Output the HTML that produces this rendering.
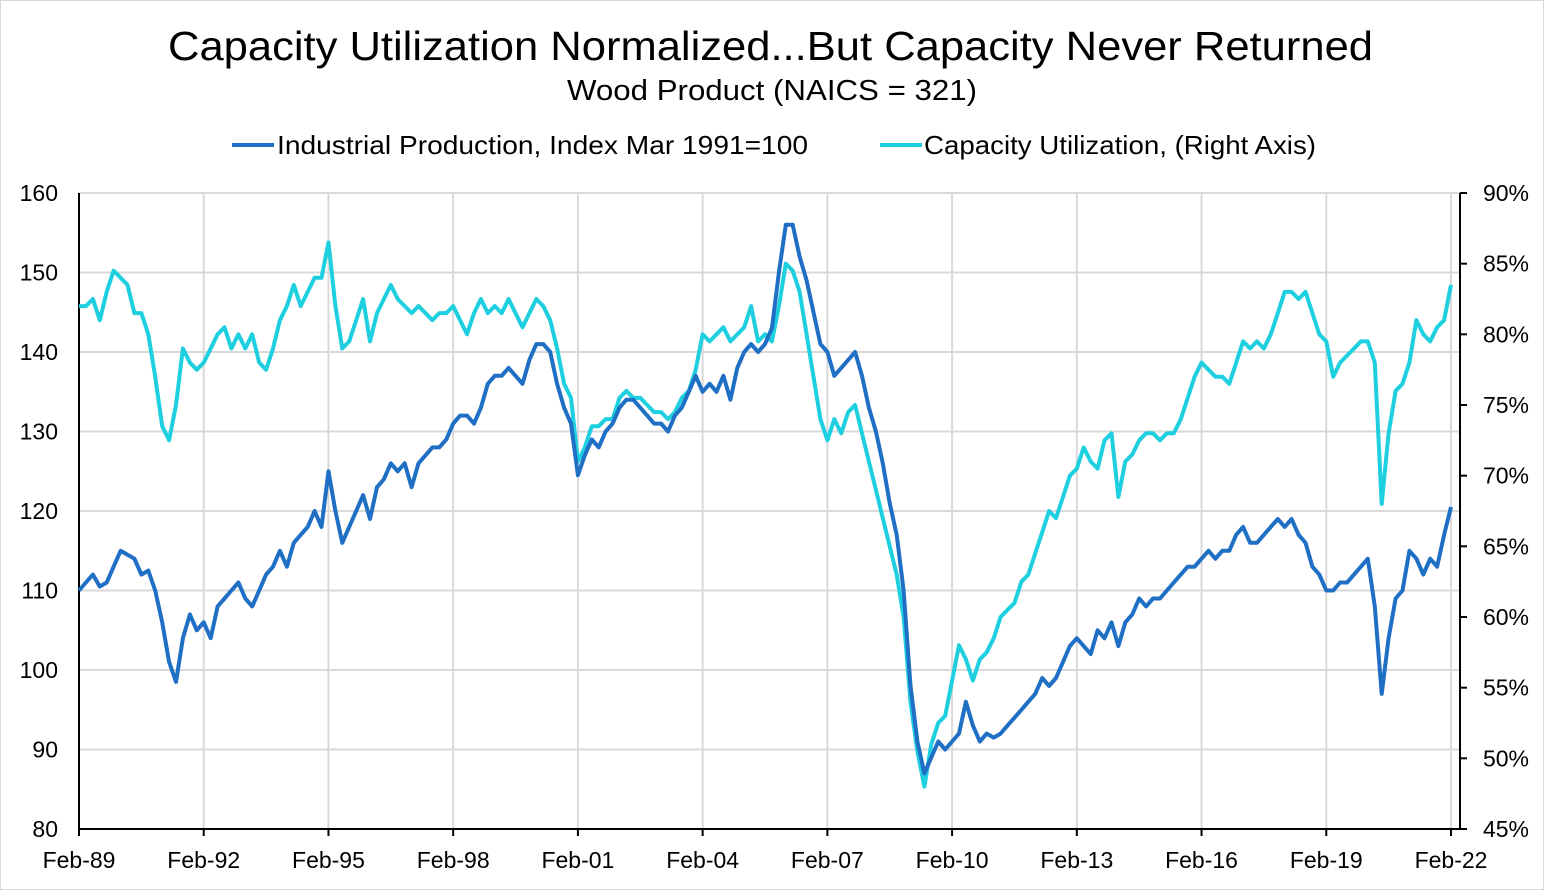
<!DOCTYPE html>
<html><head><meta charset="utf-8">
<style>
html,body{margin:0;padding:0;background:#fff;}
body{width:1544px;height:890px;overflow:hidden;font-family:"Liberation Sans",sans-serif;}
svg text{font-family:"Liberation Sans",sans-serif;}
</style></head>
<body>
<svg id="chart" width="1544" height="890" xmlns="http://www.w3.org/2000/svg">
<rect x="0.5" y="0.5" width="1543" height="889" fill="#fff" stroke="#d9d9d9"/>
<text x="168" y="60" textLength="1205" lengthAdjust="spacingAndGlyphs" font-size="41" fill="#000">Capacity Utilization Normalized...But Capacity Never Returned</text>
<text x="567" y="100" textLength="410" lengthAdjust="spacingAndGlyphs" font-size="29" fill="#000">Wood Product (NAICS = 321)</text>
<g>
<g>
<line x1="232" y1="145" x2="274" y2="145" stroke="#1f6fc5" stroke-width="4"/>
<text x="277" y="154" textLength="531" lengthAdjust="spacingAndGlyphs" font-size="26">Industrial Production, Index Mar 1991=100</text>
</g>
<g>
<line x1="880" y1="145" x2="922" y2="145" stroke="#1ecfe0" stroke-width="4"/>
<text x="924" y="154" textLength="392" lengthAdjust="spacingAndGlyphs" font-size="26">Capacity Utilization, (Right Axis)</text>
</g>
</g>
<g id="grid"></g>
<g id="axes"></g>
<g id="series"></g>
</svg>
<script>
const xTickLabels = ["Feb-89","Feb-92","Feb-95","Feb-98","Feb-01","Feb-04","Feb-07","Feb-10","Feb-13","Feb-16","Feb-19","Feb-22"];
const leftTicks = [80,90,100,110,120,130,140,150,160];
const rightTicks = [45,50,55,60,65,70,75,80,85,90];
// bimonthly from Feb-89 to Feb-22
const ipValues = [
110,111,112,110.5,111,113,
115,114.5,114,112,112.5,110,
106,101,98.5,104,107,105,
106,104,108,109,110,111,
109,108,110,112,113,115,
113,116,117,118,120,118,
125,120,116,118,120,122,
119,123,124,126,125,126,
123,126,127,128,128,129,
131,132,132,131,133,136,
137,137,138,137,136,139,
141,141,140,136,133,131,
124.5,127,129,128,130,131,
133,134,134,133,132,131,
131,130,132,133,135,137,
135,136,135,137,134,138,
140,141,140,141,143,150,
156,156,152,149,145,141,
140,137,138,139,140,137,
133,130,126,121,117,110,
98,91,87,89,91,90,
91,92,96,93,91,92,
91.5,92,93,94,95,96,
97,99,98,99,101,103,
104,103,102,105,104,106,
103,106,107,109,108,109,
109,110,111,112,113,113,
114,115,114,115,115,117,
118,116,116,117,118,119,
118,119,117,116,113,112,
110,110,111,111,112,113,
114,108,97,104,109,110,
115,114,112,114,113,117,
120.5];
const cuValues = [
82,82,82.5,81,83,84.5,
84,83.5,81.5,81.5,80,77,
73.5,72.5,75,79,78,77.5,
78,79,80,80.5,79,80,
79,80,78,77.5,79,81,
82,83.5,82,83,84,84,
86.5,82,79,79.5,81,82.5,
79.5,81.5,82.5,83.5,82.5,82,
81.5,82,81.5,81,81.5,81.5,
82,81,80,81.5,82.5,81.5,
82,81.5,82.5,81.5,80.5,81.5,
82.5,82,81,79,76.5,75.5,
71,72,73.5,73.5,74,74,
75.5,76,75.5,75.5,75,74.5,
74.5,74,74.5,75.5,76,77.5,
80,79.5,80,80.5,79.5,80,
80.5,82,79.5,80,79.5,82,
85,84.5,83,80,77,74,
72.5,74,73,74.5,75,73,
71,69,67,65,63,60,
54,50.5,48,51,52.5,53,
55.5,58,57,55.5,57,57.5,
58.5,60,60.5,61,62.5,63,
64.5,66,67.5,67,68.5,70,
70.5,72,71,70.5,72.5,73,
68.5,71,71.5,72.5,73,73,
72.5,73,73,74,75.5,77,
78,77.5,77,77,76.5,78,
79.5,79,79.5,79,80,81.5,
83,83,82.5,83,81.5,80,
79.5,77,78,78.5,79,79.5,
79.5,78,68,73,76,76.5,
78,81,80,79.5,80.5,81,
83.5];
const NS="http://www.w3.org/2000/svg";
const X0=79, PXM=(1451-79)/396, PL=79, PR=1460, PT=193, PB=829;
const xMonth = m => X0 + m*PXM;
const yL = v => PB - (v-80)/80*(PB-PT);
const yR = v => PB - (v-45)/45*(PB-PT);
function mk(tag, attrs, parent){const e=document.createElementNS(NS,tag);for(const k in attrs)e.setAttribute(k,attrs[k]);parent.appendChild(e);return e;}
const grid=document.getElementById('grid'), axes=document.getElementById('axes'), series=document.getElementById('series');
leftTicks.forEach(v=>{
  if(v>80){const l=mk('line',{x1:PL,x2:PR,y1:yL(v),y2:yL(v),stroke:'#d9d9d9','stroke-width':2},grid);
  
  }
  const t=mk('text',{x:58,y:yL(v)+8,'text-anchor':'end','font-size':23},axes);t.textContent=v;
  
  
});
rightTicks.forEach(v=>{
  const tk=mk('line',{x1:PR,x2:PR+7,y1:yR(v),y2:yR(v),stroke:'#000','stroke-width':2},axes);
  
  
  const t=mk('text',{x:1529,y:yR(v)+8,'text-anchor':'end','font-size':23},axes);t.textContent=v+'%';
  
  
});
xTickLabels.forEach((s,i)=>{
  const x=xMonth(i*36);
  if(i>0){const g=mk('line',{x1:x,x2:x,y1:PT,y2:PB,stroke:'#d9d9d9','stroke-width':2},grid);
  
  }
  const tk=mk('line',{x1:x,x2:x,y1:PB,y2:PB+7,stroke:'#000','stroke-width':2},axes);
  
  
  const t=mk('text',{x:x,y:868,'text-anchor':'middle','font-size':23},axes);t.textContent=s;
  
  
});
const la=mk('line',{x1:PL,x2:PL,y1:PT,y2:PB,stroke:'#000','stroke-width':2},axes);


const ra=mk('line',{x1:PR,x2:PR,y1:PT,y2:PB,stroke:'#000','stroke-width':2},axes);


const ba=mk('line',{x1:PL,x2:PR,y1:PB,y2:PB,stroke:'#000','stroke-width':2},axes);


const cuPath=mk('path',{d:cuValues.map((v,i)=>(i?'L':'M')+xMonth(i*2).toFixed(1)+','+yR(v).toFixed(1)).join(''),fill:'none',stroke:'#1ecfe0','stroke-width':4,'stroke-linejoin':'round'},series);


const ipPath=mk('path',{d:ipValues.map((v,i)=>(i?'L':'M')+xMonth(i*2).toFixed(1)+','+yL(v).toFixed(1)).join(''),fill:'none',stroke:'#1f6fc5','stroke-width':4,'stroke-linejoin':'round'},series);


</script>
</body></html>
